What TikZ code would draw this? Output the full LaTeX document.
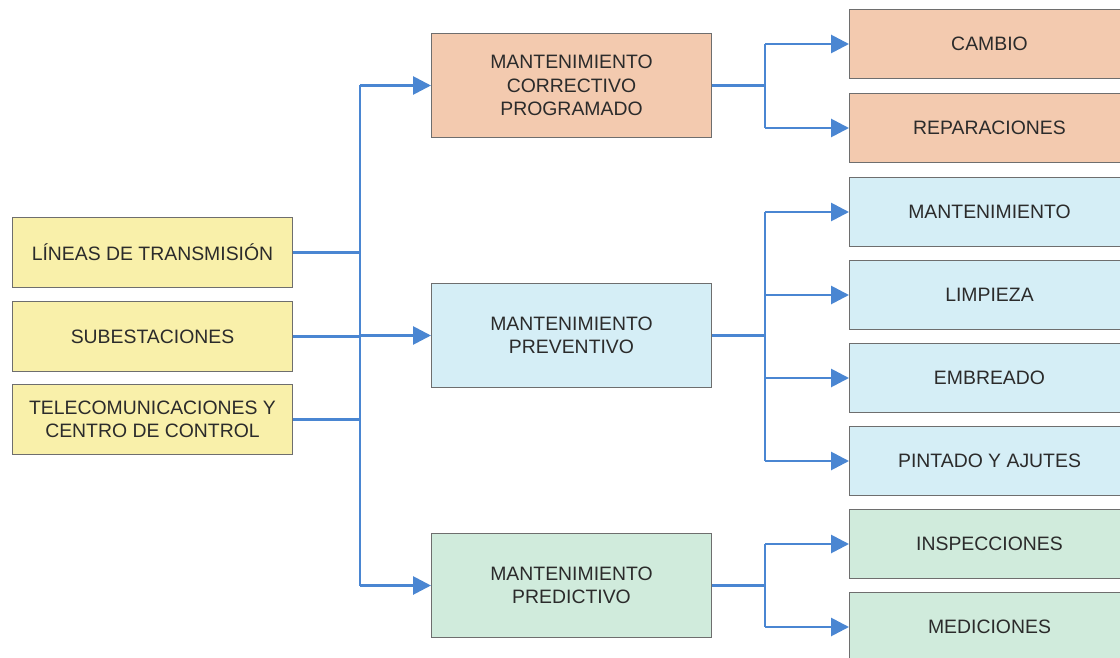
\documentclass[tikz,border=0pt]{standalone}
\usepackage{fontspec}
\setmainfont{Liberation Sans}
\usetikzlibrary{arrows.meta, positioning, calc}
\definecolor{mtYellow}{HTML}{F9F0AA}
\definecolor{mtSalmon}{HTML}{F3CAAF}
\definecolor{mtBlue}{HTML}{D5EEF6}
\definecolor{mtGreen}{HTML}{D0EBDC}
\definecolor{mtBorder}{HTML}{6E6E6E}
\definecolor{mtText}{HTML}{2B2B2B}
\definecolor{mtArrow}{HTML}{4A86D2}

\begin{document}
\begin{tikzpicture}[x=0.5pt, y=-0.5pt,
      box/.style={draw=mtBorder, line width=0.5pt, align=center,
                  font=\fontsize{9.7}{11.6}\selectfont, text=mtText,
                  anchor=north west, inner sep=0pt},
      src/.style={box, fill=mtYellow, minimum width=140pt, minimum height=35pt},
      kind/.style={box, minimum width=140pt, minimum height=52pt},
      task/.style={box, minimum width=140pt, minimum height=34.5pt},
      link/.style={mtArrow, line width=1.4pt},
      arr/.style={link, -{Triangle[length=9pt, width=9pt]}}]
    \clip (0,0) rectangle (1120,658);
    % sources
    \node[src] (lin) at (12,217) {LÍNEAS DE TRANSMISIÓN};
    \node[src] (sub) at (12,301) {SUBESTACIONES};
    \node[src] (tel) at (12,384) {TELECOMUNICACIONES Y\\CENTRO DE CONTROL};
    % maintenance kinds
    \node[kind, fill=mtSalmon] (cor) at (431,33)
      {MANTENIMIENTO\\CORRECTIVO\\PROGRAMADO};
    \node[kind, fill=mtBlue] (pre) at (431,283) {MANTENIMIENTO\\PREVENTIVO};
    \node[kind, fill=mtGreen] (prd) at (431,533) {MANTENIMIENTO\\PREDICTIVO};
    % tasks
    \node[task, fill=mtSalmon] (cam) at (849,9)   {CAMBIO};
    \node[task, fill=mtSalmon] (rep) at (849,93)  {REPARACIONES};
    \node[task, fill=mtBlue]   (man) at (849,177) {MANTENIMIENTO};
    \node[task, fill=mtBlue]   (lim) at (849,260) {LIMPIEZA};
    \node[task, fill=mtBlue]   (emb) at (849,343) {EMBREADO};
    \node[task, fill=mtBlue]   (pin) at (849,426) {PINTADO Y AJUTES};
    \node[task, fill=mtGreen]  (ins) at (849,509) {INSPECCIONES};
    \node[task, fill=mtGreen]  (med) at (849,592) {MEDICIONES};
    \coordinate (trunk) at (360,0);
    \coordinate (fork) at (765,0);
    % left trunk
    \draw[link] (lin.east) -- (lin.east -| trunk);
    \draw[link] (sub.east) -- (sub.east -| trunk);
    \draw[link] (tel.east) -- (tel.east -| trunk);
    \draw[link] (cor.west -| trunk) -- (prd.west -| trunk);
    \draw[arr] (cor.west -| trunk) -- (cor.west);
    \draw[arr] (pre.west -| trunk) -- (pre.west);
    \draw[arr] (prd.west -| trunk) -- (prd.west);
    % right forks
    \draw[link] (cor.east) -- (cor.east -| fork);
    \draw[link] (cam.west -| fork) -- (rep.west -| fork);
    \draw[link] (pre.east) -- (pre.east -| fork);
    \draw[link] (man.west -| fork) -- (pin.west -| fork);
    \draw[link] (prd.east) -- (prd.east -| fork);
    \draw[link] (ins.west -| fork) -- (med.west -| fork);
    \foreach \t in {cam, rep, man, lim, emb, pin, ins, med}
      \draw[arr] (\t.west -| fork) -- (\t.west);
  \end{tikzpicture}
\end{document}
